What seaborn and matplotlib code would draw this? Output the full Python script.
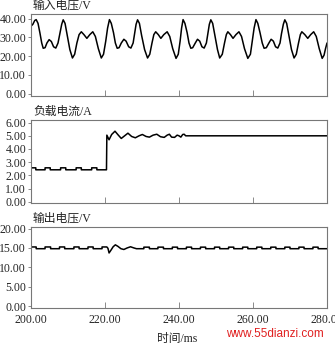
import numpy as np
import pandas as pd
import matplotlib
matplotlib.use('Agg')
import matplotlib.pyplot as plt
import seaborn as sns
from matplotlib.ticker import FixedLocator

sns.set_theme(style='white')
plt.rcParams['font.family'] = ['Liberation Serif', 'Noto Sans CJK SC']

# input voltage (time ms, volts)
vin_pts = [
    (200.0, 36.0), (200.5, 37.0), (201.0, 39.0), (201.4, 39.5), (201.9, 37.5), (202.4, 32.5),
    (202.9, 27.0), (203.3, 24.2), (203.8, 24.5), (204.3, 27.0), (204.9, 28.8), (205.5, 27.8),
    (206.1, 25.0), (206.7, 24.3), (207.3, 27.0), (207.8, 32.0), (208.3, 37.0), (208.7, 39.4),
    (209.2, 37.5), (209.8, 31.0), (210.5, 23.5), (211.2, 19.0), (211.8, 21.0), (212.4, 27.0),
    (213.0, 31.5), (213.6, 33.0), (214.3, 31.5), (215.1, 29.5), (215.9, 31.5), (216.7, 33.0),
    (217.4, 30.5), (218.2, 24.0), (219.0, 19.0), (219.6, 21.0), (220.2, 28.0), (220.7, 35.0),
    (221.2, 39.5), (221.7, 37.5), (222.3, 32.5), (222.8, 27.0), (223.3, 24.2), (223.8, 24.5),
    (224.4, 27.0), (225.1, 29.0), (225.7, 28.0), (226.4, 25.0), (227.0, 24.3), (227.6, 27.0),
    (228.0, 32.0), (228.4, 37.0), (228.8, 39.4), (229.3, 37.5), (229.9, 31.0), (230.7, 23.5),
    (231.5, 19.0), (232.1, 21.0), (232.7, 27.0), (233.2, 31.5), (233.7, 33.0), (234.4, 31.5),
    (235.1, 29.5), (235.9, 31.5), (236.8, 33.0), (237.5, 30.5), (238.3, 24.0), (239.2, 18.8),
    (239.8, 21.0), (240.3, 28.0), (240.7, 35.0), (241.1, 39.5), (241.6, 37.5), (242.2, 32.5),
    (242.7, 27.0), (243.2, 24.2), (243.7, 24.5), (244.4, 27.0), (245.0, 29.0), (245.6, 28.0),
    (246.2, 25.0), (246.8, 24.3), (247.4, 27.0), (247.8, 32.0), (248.2, 37.0), (248.6, 39.4),
    (249.1, 37.5), (249.7, 31.0), (250.4, 23.5), (251.0, 19.0), (251.7, 21.0), (252.3, 27.0),
    (252.8, 31.5), (253.2, 33.0), (253.9, 31.5), (254.6, 29.5), (255.4, 31.5), (256.2, 33.0),
    (256.9, 30.5), (257.7, 24.0), (258.6, 18.8), (259.3, 21.0), (259.8, 28.0), (260.3, 35.0),
    (260.8, 39.5), (261.3, 37.5), (261.9, 32.5), (262.5, 27.0), (263.0, 24.2), (263.6, 24.5),
    (264.3, 27.0), (264.9, 29.0), (265.5, 28.0), (266.1, 25.0), (266.7, 24.3), (267.3, 27.0),
    (267.7, 32.0), (268.2, 37.0), (268.6, 39.4), (269.1, 37.5), (269.7, 31.0), (270.4, 23.5),
    (271.1, 19.0), (271.7, 21.0), (272.3, 27.0), (272.8, 31.5), (273.2, 33.0), (274.0, 31.5),
    (274.8, 29.5), (275.6, 31.5), (276.4, 33.0), (277.1, 30.5), (277.9, 24.0), (278.7, 18.8),
    (279.2, 20.5), (279.6, 24.0), (280.0, 27.0),
]

# load current (time ms, amps)
cur_pts = [
    (200.0, 2.57), (201.3, 2.57), (201.3, 2.42), (203.8, 2.42), (203.8, 2.57), (205.2, 2.57),
    (205.2, 2.42), (208.0, 2.42), (208.0, 2.57), (209.4, 2.57), (209.4, 2.42), (212.2, 2.42),
    (212.2, 2.57), (213.6, 2.57), (213.6, 2.42), (216.4, 2.42), (216.4, 2.57), (217.8, 2.57),
    (217.8, 2.42), (220.4, 2.42), (220.5, 5.05), (221.1, 4.70), (221.8, 5.10), (222.7, 5.35),
    (223.6, 5.05), (224.4, 4.80), (225.3, 5.00), (226.2, 5.20), (227.2, 4.95), (228.2, 4.85),
    (229.2, 5.00), (230.1, 5.10), (231.1, 4.95), (232.0, 4.90), (233.0, 5.05), (234.0, 5.12),
    (235.0, 4.93), (236.0, 4.88), (236.8, 5.05), (237.4, 5.12), (238.0, 4.90), (238.8, 4.88),
    (239.5, 5.05), (240.0, 5.00), (240.5, 4.90), (241.0, 5.10), (241.4, 5.12), (241.8, 5.00),
    (280.0, 5.00),
]

# output voltage (time ms, volts)
vout_pts = [
    (200.0, 15.25), (201.4, 15.25), (201.4, 14.8), (203.8, 14.8), (203.8, 15.25), (205.3, 15.25),
    (205.3, 14.8), (207.7, 14.8), (207.7, 15.25), (209.1, 15.25), (209.1, 14.8), (211.6, 14.8),
    (211.6, 15.25), (213.0, 15.25), (213.0, 14.8), (215.4, 14.8), (215.4, 15.25), (216.8, 15.25),
    (216.8, 14.8), (219.2, 14.8), (219.2, 15.25), (220.5, 15.25), (220.8, 14.9), (221.1, 13.7),
    (221.6, 14.4), (222.2, 15.3), (222.8, 15.8), (223.5, 15.4), (224.3, 14.8), (225.1, 14.6),
    (226.0, 15.0), (226.9, 15.3), (227.8, 15.0), (228.5, 14.8), (230.5, 14.8), (230.5, 15.2),
    (232.0, 15.2), (232.0, 14.8), (234.3, 14.8), (234.3, 15.2), (235.8, 15.2), (235.8, 14.8),
    (238.2, 14.8), (238.2, 15.2), (239.6, 15.2), (239.6, 14.8), (242.0, 14.8), (242.0, 15.2),
    (243.4, 15.2), (243.4, 14.8), (245.8, 14.8), (245.8, 15.2), (247.2, 15.2), (247.2, 14.8),
    (249.6, 14.8), (249.6, 15.2), (251.0, 15.2), (251.0, 14.8), (253.4, 14.8), (253.4, 15.2),
    (254.8, 15.2), (254.8, 14.8), (257.2, 14.8), (257.2, 15.2), (258.6, 15.2), (258.6, 14.8),
    (261.0, 14.8), (261.0, 15.2), (262.4, 15.2), (262.4, 14.8), (264.8, 14.8), (264.8, 15.2),
    (266.2, 15.2), (266.2, 14.8), (268.6, 14.8), (268.6, 15.2), (270.0, 15.2), (270.0, 14.8),
    (272.4, 14.8), (272.4, 15.2), (273.8, 15.2), (273.8, 14.8), (276.2, 14.8), (276.2, 15.2),
    (277.6, 15.2), (277.6, 14.8), (280.0, 14.8),
]

titles = ['输入电压/V', '负载电流/A', '输出电压/V']
y_ticks = [[0, 10, 20, 30, 40], [0, 1, 2, 3, 4, 5, 6], [0, 5, 10, 15, 20]]
y_lims = [(-1.3, 42.5), (-0.1, 6.2), (-0.5, 20.4)]
inner_marks = [[], [3], [10]]
x_ticks = [200, 220, 240, 260, 280]

W, H = 335, 344
fig = plt.figure(figsize=(W / 100, H / 100), dpi=100)
# axes boxes in pixels: (top, bottom)
boxes = [(14, 96), (120, 203), (227, 308)]
left_px, right_px = 31, 327

series = [vin_pts, cur_pts, vout_pts]
for k, pts in enumerate(series):
    top, bot = boxes[k]
    ax = fig.add_axes([left_px / W, 1 - bot / H, (right_px - left_px) / W, (bot - top) / H])
    df = pd.DataFrame(pts, columns=['t', 'v'])
    sns.lineplot(data=df, x='t', y='v', ax=ax, sort=False, estimator=None,
                 color='black', linewidth=1.1)
    ax.set_xlim(200, 280)
    ax.set_ylim(*y_lims[k])
    ax.set_xlabel('')
    ax.set_ylabel('')
    ax.set_yticks(y_ticks[k])
    ax.set_yticklabels(['%.2f' % v for v in y_ticks[k]], fontsize=8.5)
    ax.set_xticks(x_ticks)
    ax.xaxis.set_minor_locator(FixedLocator([240]))
    ax.tick_params(axis='x', which='major', direction='in', length=4, width=0.6,
                   color='#777777', bottom=True, pad=4)
    ax.tick_params(axis='x', which='minor', direction='in', length=8, width=0.6,
                   color='#777777', bottom=True)
    ax.tick_params(axis='y', which='major', direction='out', length=2, width=0.6,
                   color='#777777', left=True, pad=1.5)
    if inner_marks[k]:
        ax.yaxis.set_minor_locator(FixedLocator(inner_marks[k]))
        ax.tick_params(axis='y', which='minor', direction='in', length=8, width=0.9,
                       color='#222222', left=True)
    if k < 2:
        ax.set_xticklabels([])
    else:
        ax.set_xticklabels(['%.2f' % v for v in x_ticks], fontsize=8.5)
    for s in ax.spines.values():
        s.set_color('#777777')
        s.set_linewidth(0.8)
    fig.text(33 / W, 1 - (top - 8) / H, titles[k], fontsize=8.5, va='center', ha='left',
             color='#222222')

fig.text(177 / W, 1 - 339 / H, '时间/ms', fontsize=8.5, ha='center', va='center',
         color='#222222')
fig.text(275 / W, 1 - 334 / H, 'www.55dianzi.com', fontsize=8.5, ha='center', va='center',
         color='#e02020', family=['Liberation Sans', 'DejaVu Sans'])

fig.savefig('out.png', dpi=100)
